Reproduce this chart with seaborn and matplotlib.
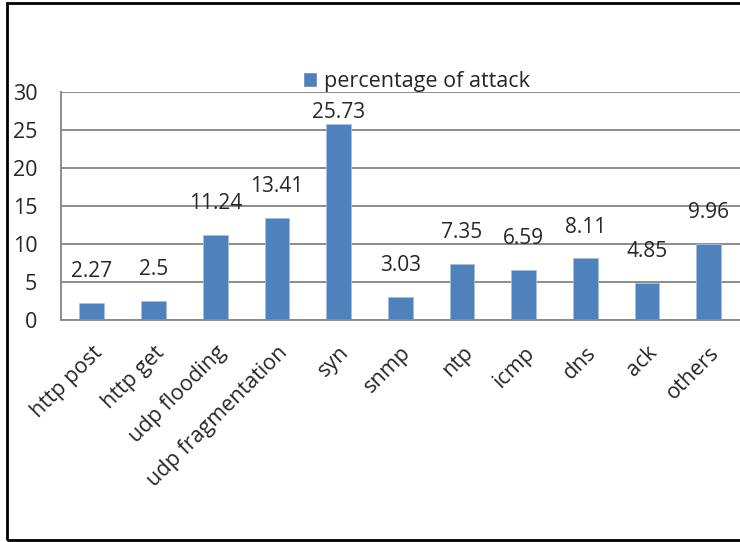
import matplotlib
matplotlib.use("Agg")
import matplotlib.pyplot as plt
import seaborn as sns
import numpy as np
from matplotlib.patches import Patch, Rectangle

attack_types = ["http post", "http get", "udp flooding", "udp fragmentation", "syn",
                "snmp", "ntp", "icmp", "dns", "ack", "others"]
percentages = [2.27, 2.5, 11.24, 13.41, 25.73, 3.03, 7.35, 6.59, 8.11, 4.85, 9.96]
yticks = [0, 5, 10, 15, 20, 25, 30]
series_name = "percentage of attack"

BAR = "#4F81BD"
GRID = "#8C8C8C"


def plot_data():
    sns.set_style("white")
    plt.rcParams["font.family"] = ["Open Sans", "DejaVu Sans"]

    fig = plt.figure(figsize=(7.4, 5.42), dpi=100)
    ax = fig.add_axes([0.0824, 0.4096, 0.917, 0.4207])

    sns.barplot(x=attack_types, y=percentages, color=BAR, width=0.4,
                saturation=1, edgecolor="#A7C0DE", linewidth=0.6, ax=ax)

    ax.set_xlim(-0.5, len(attack_types) - 0.5)
    ax.set_ylim(0, 30)
    ax.set_yticks(yticks)
    ax.yaxis.grid(True, color=GRID, linewidth=1.4)
    ax.set_axisbelow(True)

    for side in ["top", "right"]:
        ax.spines[side].set_visible(False)
    for side in ["left", "bottom"]:
        ax.spines[side].set_color(GRID)
        ax.spines[side].set_linewidth(1.4)

    # value labels above bars (kept inside the plot area like Excel does)
    for i, v in enumerate(percentages):
        pad = 15 if v < 24 else 1
        ax.annotate(f"{v:g}", (i, v), xytext=(0, pad), textcoords="offset points",
                    ha="center", va="bottom", fontsize=15)

    # y ticks outward, x ticks at category boundaries
    ax.tick_params(axis="y", length=5, color=GRID, width=1.4, labelsize=15.5, pad=12)
    ax.set_xticks(np.arange(len(attack_types)))
    ax.set_xticklabels(attack_types, rotation=45, ha="right", rotation_mode="anchor",
                       fontsize=15.5)
    ax.tick_params(axis="x", which="major", length=0, pad=16)
    ax.set_xticks(np.arange(len(attack_types) + 1) - 0.5, minor=True)
    ax.tick_params(axis="x", which="minor", length=5, color=GRID, width=1.4)
    ax.set_xlabel("")
    ax.set_ylabel("")

    ax.legend(handles=[Patch(facecolor=BAR, label=series_name)], loc="lower center",
              bbox_to_anchor=(0.524, 0.99), frameon=False, fontsize=15.5,
              handlelength=0.65, handleheight=0.65, handletextpad=0.32,
              borderaxespad=0.0, borderpad=0.1)

    # chart area border
    fig.patches.append(Rectangle((7 / 740, 2 / 542), 1.0, 537 / 542,
                                 transform=fig.transFigure, fill=False,
                                 edgecolor="black", linewidth=2))

    fig.savefig("out.png", dpi=100)


if __name__ == "__main__":
    plot_data()
